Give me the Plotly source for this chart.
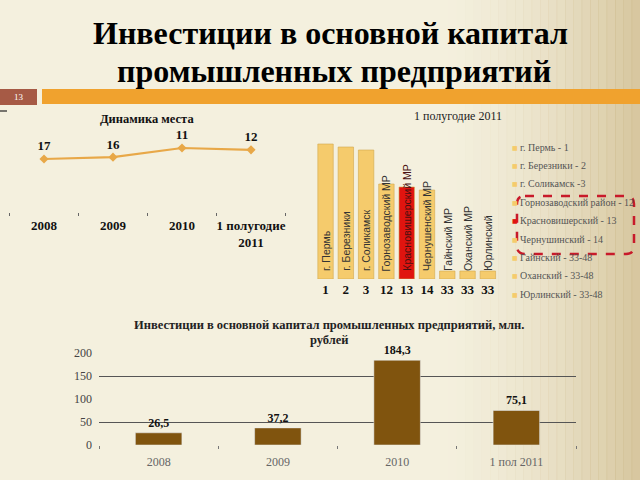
import plotly.graph_objects as go

# ---------------- data ----------------
rank_years = ["2008", "2009", "2010", "1 полугодие<br>2011"]
rank_values = [17, 16, 11, 12]

districts = ["г. Пермь", "г. Березники", "г. Соликамск", "Горнозаводский МР",
             "Красновишерский МР", "Чернушенский МР", "Гайнский МР",
             "Оханский МР", "Юрлинский"]
district_ranks = ["1", "2", "3", "12", "13", "14", "33", "33", "33"]
district_scores = [135, 132, 129, 95, 92, 89, 8, 8, 8]
legend_labels = ["г. Пермь - 1", "г. Березники - 2", "г. Соликамск -3",
                 "Горнозаводский район - 12", "Красновишерский - 13",
                 "Чернушинский - 14", "Гайнский - 33-48", "Оханский - 33-48",
                 "Юрлинский - 33-48"]

invest_years = ["2008", "2009", "2010", "1 пол 2011"]
invest_values = [26.5, 37.2, 184.3, 75.1]

# --------------- helpers ---------------
W, H = 640, 480
def px(x):
    return x / W
def py(y):
    return 1 - y / H

SERIF = "Liberation Serif"
SANS = "Liberation Sans"
YELLOW = "#f5cb6c"
RED = "#e0140f"
bar_colors = [RED if i == 4 else YELLOW for i in range(len(districts))]

fig = go.Figure()

# chart 1: rank dynamics
fig.add_trace(go.Scatter(
    x=rank_years, y=rank_values, mode="lines+markers+text",
    text=[f"<b>{v}</b>" for v in rank_values], textposition="top center",
    textfont=dict(family=SERIF, size=13, color="#111"),
    line=dict(color="#e8a848", width=2.2),
    marker=dict(symbol="diamond", size=7, color="#e8a848"),
    xaxis="x", yaxis="y", cliponaxis=False, showlegend=False, hoverinfo="skip"))

# chart 2: districts
fig.add_trace(go.Bar(
    x=list(range(len(districts))), y=district_scores, width=0.76,
    marker=dict(color=bar_colors, line=dict(color="#d2a84e", width=0.6)),
    xaxis="x2", yaxis="y2", showlegend=False, hoverinfo="skip"))

# chart 3: investments
fig.add_trace(go.Bar(
    x=invest_years, y=invest_values, width=0.39,
    marker=dict(color="#80540e"),
    text=[f"{v:.1f}".replace(".", ",") for v in invest_values],
    textposition="outside", cliponaxis=False,
    textfont=dict(family=SERIF, size=12, color="#111", weight="bold"),
    xaxis="x3", yaxis="y3", showlegend=False, hoverinfo="skip"))
# invisible trace to carry the gridline axis
fig.add_trace(go.Scatter(
    x=invest_years, y=invest_values, mode="markers", marker=dict(opacity=0),
    xaxis="x3", yaxis="y4", showlegend=False, hoverinfo="skip"))

# --------------- shapes ---------------
shapes = []
n = 24
for i in range(n):
    x0 = 440 + i * (200 / n)
    x1 = x0 + 200 / n + 0.5
    a = ((i + 1) / n) ** 1.7 * 0.6
    shapes.append(dict(type="rect", xref="paper", yref="paper",
                       x0=px(x0), x1=px(x1), y0=0, y1=1, layer="below",
                       line=dict(width=0), fillcolor=f"rgba(196,172,118,{a:.3f})"))
shapes.append(dict(type="rect", xref="paper", yref="paper", x0=px(0), x1=px(37),
                   y0=py(105), y1=py(89), line=dict(width=0), fillcolor="#a65a45"))
shapes.append(dict(type="rect", xref="paper", yref="paper", x0=px(42), x1=px(640),
                   y0=py(104), y1=py(89), line=dict(width=0), fillcolor="#f0a22e"))
shapes.append(dict(type="line", xref="paper", yref="paper", x0=px(0), x1=px(7),
                   y0=py(111), y1=py(111), line=dict(width=1.2, color="#222")))
x0, x1, y0, y1, r = 517, 634, 196, 254, 8
def P(x, y):
    return f"{px(x):.5f},{py(y):.5f}"
path = (f"M {P(x0 + r, y0)} L {P(x1 - r, y0)} Q {P(x1, y0)} {P(x1, y0 + r)} "
        f"L {P(x1, y1 - r)} Q {P(x1, y1)} {P(x1 - r, y1)} L {P(x0 + r, y1)} "
        f"Q {P(x0, y1)} {P(x0, y1 - r)} L {P(x0, y0 + r)} Q {P(x0, y0)} {P(x0 + r, y0)} Z")
shapes.append(dict(type="path", xref="paper", yref="paper", path=path,
                   line=dict(color="#c81a2a", width=2.5, dash="dash")))

# --------------- annotations ---------------
ann = []
def note(text, x, y, size, color="#111", family=SERIF, xanchor="center", **kw):
    ann.append(dict(text=text, x=px(x), y=py(y), xref="paper", yref="paper",
                    xanchor=xanchor, yanchor="middle", showarrow=False,
                    font=dict(family=family, size=size, color=color), **kw))

note("<b>Инвестиции в основной капитал</b>", 330, 33, 32, "#000")
note("<b>промышленных предприятий</b>", 334, 71, 32, "#000")
note("13", 19, 97, 9, "#fff")
note("<b>Динамика места</b>", 147, 119, 12.5)
note("1 полугодие 2011", 458, 116, 12, "#222")
note("<b>Инвестиции в основной капитал промышленных предприятий, млн.</b>", 329, 325, 12.5, "#222")
note("<b>рублей</b>", 329, 340, 12.5, "#222")
for i, name in enumerate(districts):
    ann.append(dict(text=name, x=i, y=6, xref="x2", yref="y2", textangle=-90,
                    xanchor="center", yanchor="bottom", showarrow=False,
                    font=dict(family=SANS, size=10.5,
                              color="#4a1010" if i == 4 else "#333")))
for i, lab in enumerate(legend_labels):
    yy = 147 + i * 18.4
    note("■", 515, yy, 6, bar_colors[i], family="DejaVu Sans")
    note(lab, 518, yy, 10, "#555", xanchor="left")

fig.update_layout(
    width=W, height=H, margin=dict(l=0, r=0, t=0, b=0, autoexpand=False),
    paper_bgcolor="#f4f0de", plot_bgcolor="rgba(0,0,0,0)",
    shapes=shapes, annotations=ann,
    xaxis=dict(domain=[px(9.5), px(285.5)], anchor="y", type="category",
               range=[-0.5, 3.5], automargin=False, tickangle=0,
               tickson="boundaries", ticks="outside", ticklen=3, tickcolor="#666",
               showline=False, showgrid=False, ticklabelstandoff=4,
               tickfont=dict(family=SERIF, size=13, color="#111", weight="bold")),
    yaxis=dict(domain=[py(212), py(130)], range=[45.9, 1.18], visible=False,
               automargin=False),
    xaxis2=dict(domain=[px(315.4), px(498)], anchor="y2", automargin=False,
                tickvals=list(range(len(districts))), ticktext=district_ranks,
                range=[-0.5, len(districts) - 0.5], ticks="", showgrid=False,
                showline=False, zeroline=False, ticklabelstandoff=1, tickangle=0,
                tickfont=dict(family=SERIF, size=13, color="#111", weight="bold")),
    yaxis2=dict(domain=[py(279), py(140)], range=[0, 139], visible=False,
                automargin=False),
    xaxis3=dict(domain=[px(99), px(576)], anchor="y3", type="category",
                range=[-0.5, 3.5], automargin=False, tickangle=0,
                tickson="boundaries", ticks="outside", ticklen=3, tickcolor="#777",
                showline=False, showgrid=False, ticklabelstandoff=8,
                tickfont=dict(family=SERIF, size=12, color="#666")),
    yaxis3=dict(domain=[py(445), py(353)], range=[0, 200], anchor="x3",
                automargin=False,
                tickvals=[0, 50, 100, 150, 200], showgrid=False, zeroline=False,
                ticks="", ticklabelstandoff=6,
                tickfont=dict(family=SERIF, size=12, color="#444")),
    yaxis4=dict(overlaying="y3", anchor="x3", range=[0, 200], tickvals=[50, 150],
                automargin=False,
                showgrid=True, gridcolor="#555", gridwidth=1, showticklabels=False,
                zeroline=False, ticks=""),
)

fig.write_html("out.html")
